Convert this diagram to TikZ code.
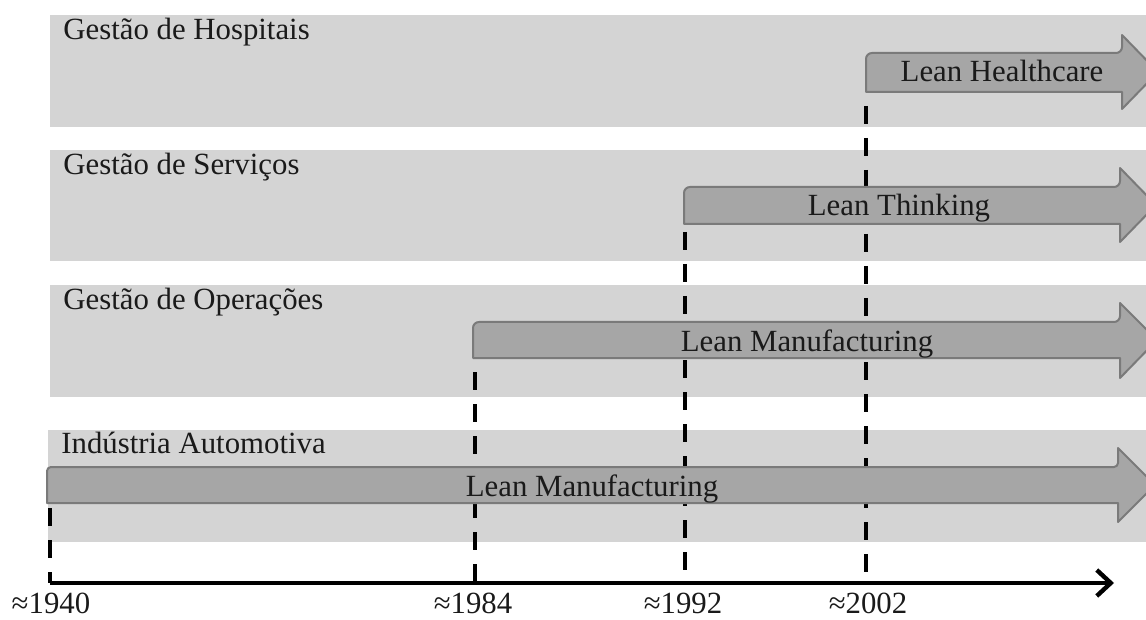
\documentclass[tikz,border=0pt]{standalone}
\usepackage{fontspec}
\setmainfont{Liberation Serif}
\usetikzlibrary{arrows.meta}
\definecolor{bandgrey}{HTML}{D4D4D4}
\definecolor{arrowgrey}{HTML}{A6A6A6}
\definecolor{arrowedge}{HTML}{7A7A7A}
\definecolor{txt}{HTML}{1A1A1A}
\tikzset{
  band/.style={fill=bandgrey, draw=none},
  leanarrow/.style={fill=arrowgrey, draw=arrowedge, line width=1pt, line join=round},
  lanelabel/.style={anchor=base west, inner sep=0pt, text=txt, font=\fontsize{15.4}{18}\selectfont},
  arrowlabel/.style={anchor=base, inner sep=0pt, text=txt, font=\fontsize{15.4}{18}\selectfont},
  yearlabel/.style={anchor=base, inner sep=0pt, text=txt, font=\fontsize{15.4}{18}\selectfont},
  guide/.style={line width=2pt, dash pattern=on 9pt off 7pt, black},
  axisline/.style={line width=2.2pt, black, -{Straight Barb[length=7pt,width=13pt,line width=2.2pt]}}
}
\begin{document}
\begin{tikzpicture}[x=0.5pt,y=-0.5pt]
\useasboundingbox (0,0) rectangle (1146,620);
\clip (0,0) rectangle (1146,620);
% bands
\fill[band] (50,15) rectangle (1146,127);
\fill[band] (50,150) rectangle (1146,261);
\fill[band] (50,285) rectangle (1146,397);
\fill[band] (48,430) rectangle (1146,542);
% lane labels
\node[lanelabel] (l1) at (63,40) {Gestão de Hospitais};
\node[lanelabel] (l2) at (63,175) {Gestão de Serviços};
\node[lanelabel] (l3) at (63,309) {Gestão de Operações};
\node[lanelabel] (l4) at (61,453) {Indústria Automotiva};
% guide start/end coordinates
\coordinate (s1) at (50,508);
\coordinate (s2) at (475,372);
\coordinate (s3) at (685,232);
\coordinate (s4) at (866,106);
\coordinate (e1) at (50,583);
\coordinate (e2) at (475,583);
\coordinate (e3) at (685,583);
\coordinate (e4) at (866,583);
\coordinate (axend) at (1114,583);
% guides (behind the arrows)
\draw[guide] (s1) -- (e1);
\draw[guide] (s2) -- (e2);
\draw[guide] (s3) -- (e3);
\draw[guide] (s4) -- (e4);
% arrows
\draw[leanarrow, rounded corners=3pt] (866,92) -- (866,53) -- (1122,53) [sharp corners] -- (1122,35) -- (1158,72) -- (1122,109) -- (1122,92) -- cycle;
\draw[leanarrow, rounded corners=3pt] (684,224) -- (684,187) -- (1120,187) [sharp corners] -- (1120,168) -- (1156,205) -- (1120,242) -- (1120,224) -- cycle;
\draw[leanarrow, rounded corners=3pt] (473,358) -- (473,322) -- (1120,322) [sharp corners] -- (1120,303) -- (1157,340) -- (1120,378) -- (1120,358) -- cycle;
\draw[leanarrow, rounded corners=2pt] (47,503) -- (47,467) -- (1118,467) [sharp corners] -- (1118,448) -- (1155,485) -- (1118,522) -- (1118,503) -- cycle;
% arrow labels
\node[arrowlabel] (a1) at (1002,82) {Lean Healthcare};
\node[arrowlabel] (a2) at (899,216) {Lean Thinking};
\node[arrowlabel] (a3) at (807,351) {Lean Manufacturing};
\node[arrowlabel] (a4) at (592,496) {Lean Manufacturing};
% axis
\draw[axisline] (e1) -- (axend);
% year labels
\node[yearlabel] (y1) at (51,613) {≈1940};
\node[yearlabel] (y2) at (473,613) {≈1984};
\node[yearlabel] (y3) at (683,613) {≈1992};
\node[yearlabel] (y4) at (868,613) {≈2002};
\end{tikzpicture}
\end{document}
